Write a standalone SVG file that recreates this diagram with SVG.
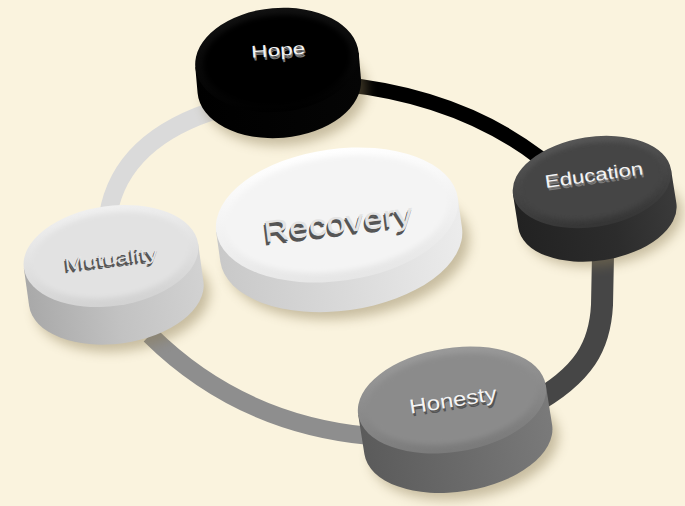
<svg xmlns="http://www.w3.org/2000/svg" width="685" height="506" viewBox="0 0 685 506">
  <defs>
    <filter id="blur6" x="-30%" y="-30%" width="160%" height="160%"><feGaussianBlur stdDeviation="6"/></filter>
    <filter id="blur2" x="-10%" y="-10%" width="120%" height="120%"><feGaussianBlur stdDeviation="2.5"/></filter>
    <linearGradient id="rimHope" x1="0" y1="0" x2="0" y2="1"><stop offset="0" stop-color="#111"/><stop offset="1" stop-color="#000"/></linearGradient>
    <linearGradient id="sideHope" x1="0" y1="0" x2="1" y2="0"><stop offset="0" stop-color="#000"/><stop offset="1" stop-color="#050505"/></linearGradient>
    <linearGradient id="rimEdu" x1="0" y1="0" x2="0" y2="1"><stop offset="0" stop-color="#575757"/><stop offset="1" stop-color="#353535"/></linearGradient>
    <linearGradient id="sideEdu" x1="0" y1="0" x2="1" y2="0"><stop offset="0" stop-color="#222"/><stop offset="0.6" stop-color="#2c2c2c"/><stop offset="1" stop-color="#3a3a3a"/></linearGradient>
    <linearGradient id="rimRec" x1="0" y1="0" x2="0" y2="1"><stop offset="0" stop-color="#ffffff"/><stop offset="1" stop-color="#e6e6e6"/></linearGradient>
    <linearGradient id="sideRec" x1="0" y1="0" x2="1" y2="0"><stop offset="0" stop-color="#c9c9c9"/><stop offset="0.5" stop-color="#dadada"/><stop offset="1" stop-color="#ececec"/></linearGradient>
    <linearGradient id="rimMut" x1="0" y1="0" x2="0" y2="1"><stop offset="0" stop-color="#f0f0f0"/><stop offset="1" stop-color="#d2d2d2"/></linearGradient>
    <linearGradient id="sideMut" x1="0" y1="0" x2="1" y2="0"><stop offset="0" stop-color="#a9a9a9"/><stop offset="0.5" stop-color="#c2c2c2"/><stop offset="1" stop-color="#d2d2d2"/></linearGradient>
    <linearGradient id="rimHon" x1="0" y1="0" x2="0" y2="1"><stop offset="0" stop-color="#9a9a9a"/><stop offset="1" stop-color="#7a7a7a"/></linearGradient>
    <linearGradient id="sideHon" x1="0" y1="0" x2="1" y2="0"><stop offset="0" stop-color="#5b5b5b"/><stop offset="0.5" stop-color="#6a6a6a"/><stop offset="1" stop-color="#7a7a7a"/></linearGradient>
  </defs>
  <style>
    .bg { fill: #faf3de; }
    .link { fill: none; stroke-linecap: butt; }
    .shadow { fill: #8a7a55; opacity: 0.45; }
    .lbl { font-family: "Liberation Sans", Arial, sans-serif; text-anchor: middle; }
    .ts { fill: #7a7a7a; }
    .tw { fill: #f4f4f4; }
    .tsd { fill: #555555; }
    .tl { fill: #e4e4e4; }
  </style>
  <rect class="bg" x="0" y="0" width="685" height="506"/>

  <g id="connectors">
    <path class="link" d="M 222 108 Q 121 138 108 215" stroke="#dadada" stroke-width="18"/>
    <path class="link" d="M 340 84 Q 459 96 540 158" stroke="#000000" stroke-width="15"/>
    <path class="link" d="M 603 255 L 602 305 C 600 345 585 375 530 405" stroke="#464646" stroke-width="22"/>
    <path class="link" d="M 150 335 Q 240 424 370 436" stroke="#8e8e8e" stroke-width="18"/>
  </g>

  <g id="node-hope" transform="translate(277,60) rotate(-5)">
    <ellipse class="shadow" cx="5" cy="34" rx="82" ry="52" filter="url(#blur6)"/>
    <path d="M -82 0 L -82 26 A 82 52 0 0 0 82 26 L 82 0 Z" fill="url(#sideHope)"/>
    <ellipse cx="0" cy="0" rx="82" ry="52" fill="url(#rimHope)"/>
    <ellipse cx="0" cy="0" rx="74" ry="45" fill="#000" filter="url(#blur2)"/>
    <g transform="translate(2,-10) rotate(1)">
      <text class="lbl ts" x="1" y="9" font-size="17" textLength="54" lengthAdjust="spacingAndGlyphs">Hope</text>
      <text class="lbl ts" x="0.5" y="7.5" font-size="17" textLength="54" lengthAdjust="spacingAndGlyphs">Hope</text>
      <text class="lbl tw" x="0" y="6" font-size="17" textLength="54" lengthAdjust="spacingAndGlyphs">Hope</text>
    </g>
  </g>

  <g id="node-education" transform="translate(592,182) rotate(-9)">
    <ellipse class="shadow" cx="5" cy="40" rx="80" ry="45" filter="url(#blur6)"/>
    <path d="M -80 0 L -80 34 A 80 45 0 0 0 80 34 L 80 0 Z" fill="url(#sideEdu)"/>
    <ellipse cx="0" cy="0" rx="80" ry="45" fill="url(#rimEdu)"/>
    <ellipse cx="0" cy="-1" rx="72" ry="38" fill="#454545" filter="url(#blur2)"/>
    <g transform="translate(3,-7) rotate(1)">
      <text class="lbl ts" x="1" y="9.5" font-size="18" textLength="99" lengthAdjust="spacingAndGlyphs">Education</text>
      <text class="lbl ts" x="0.5" y="8" font-size="18" textLength="99" lengthAdjust="spacingAndGlyphs">Education</text>
      <text class="lbl tw" x="0" y="6.5" font-size="18" textLength="99" lengthAdjust="spacingAndGlyphs">Education</text>
    </g>
  </g>

  <g id="node-recovery" transform="translate(337,215) rotate(-8)">
    <ellipse class="shadow" cx="6" cy="38" rx="122" ry="66" filter="url(#blur6)"/>
    <path d="M -122 0 L -122 30 A 122 66 0 0 0 122 30 L 122 0 Z" fill="url(#sideRec)"/>
    <ellipse cx="0" cy="0" rx="122" ry="66" fill="url(#rimRec)"/>
    <ellipse cx="0" cy="-1" rx="112" ry="57" fill="#f4f4f4" filter="url(#blur2)"/>
    <g transform="translate(0,8) rotate(1)">
      <text class="lbl tsd" x="-2" y="13.5" font-size="30" textLength="150" lengthAdjust="spacingAndGlyphs">Recovery</text>
      <text class="lbl tsd" x="-1" y="12" font-size="30" textLength="150" lengthAdjust="spacingAndGlyphs">Recovery</text>
      <text class="lbl tl" x="0" y="10" font-size="30" textLength="150" lengthAdjust="spacingAndGlyphs">Recovery</text>
    </g>
  </g>

  <g id="node-mutuality" transform="translate(111,256) rotate(-8)">
    <ellipse class="shadow" cx="5" cy="46" rx="88" ry="50" filter="url(#blur6)"/>
    <path d="M -88 0 L -88 38 A 88 50 0 0 0 88 38 L 88 0 Z" fill="url(#sideMut)"/>
    <ellipse cx="0" cy="0" rx="88" ry="50" fill="url(#rimMut)"/>
    <ellipse cx="0" cy="-1" rx="79" ry="42" fill="#e2e2e2" filter="url(#blur2)"/>
    <g transform="translate(0,2) rotate(1)">
      <text class="lbl tsd" x="-2" y="9.5" font-size="18" textLength="94" lengthAdjust="spacingAndGlyphs">Mutuality</text>
      <text class="lbl tsd" x="-1" y="8" font-size="18" textLength="94" lengthAdjust="spacingAndGlyphs">Mutuality</text>
      <text class="lbl tl" x="0" y="6.5" font-size="18" textLength="94" lengthAdjust="spacingAndGlyphs">Mutuality</text>
    </g>
  </g>

  <g id="node-honesty" transform="translate(452,400) rotate(-9)">
    <ellipse class="shadow" cx="5" cy="48" rx="95" ry="52" filter="url(#blur6)"/>
    <path d="M -95 0 L -95 40 A 95 52 0 0 0 95 40 L 95 0 Z" fill="url(#sideHon)"/>
    <ellipse cx="0" cy="0" rx="95" ry="52" fill="url(#rimHon)"/>
    <ellipse cx="0" cy="-1" rx="86" ry="44" fill="#8b8b8b" filter="url(#blur2)"/>
    <g transform="translate(1,0)">
      <text class="lbl tsd" x="1" y="10" font-size="20" textLength="88" lengthAdjust="spacingAndGlyphs">Honesty</text>
      <text class="lbl tsd" x="0.5" y="8.5" font-size="20" textLength="88" lengthAdjust="spacingAndGlyphs">Honesty</text>
      <text class="lbl tw" x="0" y="7" font-size="20" textLength="88" lengthAdjust="spacingAndGlyphs">Honesty</text>
    </g>
  </g>
</svg>
